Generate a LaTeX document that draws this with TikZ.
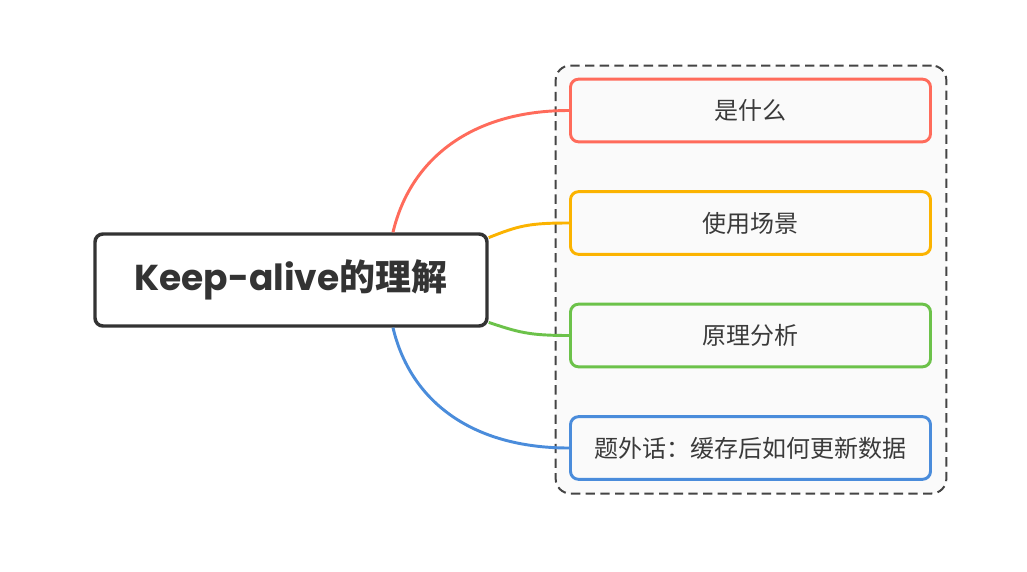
\documentclass[tikz,border=0pt]{standalone}
\usepackage{fontspec}
\usepackage{tikz}
\newfontfamily\cjk{Noto Sans CJK SC}
\newfontfamily\latinbold{Poppins}
\definecolor{ink}{HTML}{333333}
\definecolor{label}{HTML}{3A3A3A}
\definecolor{boxfill}{HTML}{FAFAFA}
\definecolor{grpline}{HTML}{444444}
\definecolor{redline}{HTML}{FF6B5B}
\definecolor{orangeline}{HTML}{FBB300}
\definecolor{greenline}{HTML}{6CC24A}
\definecolor{blueline}{HTML}{4A8CDB}

\begin{document}
\begin{tikzpicture}[x=0.75pt,y=-0.75pt,
	rootbox/.style={draw=ink, line width=2.6pt, rounded corners=6pt, fill=white,
		minimum width=294pt, minimum height=69pt, text=ink},
	topic/.style={draw=#1, line width=2.2pt, rounded corners=6pt, fill=boxfill,
		minimum width=270pt, minimum height=47pt, text=label,
		font=\cjk\fontsize{18}{21}\selectfont},
	group/.style={draw=grpline, line width=1.5pt, dash pattern=on 7pt off 4pt,
		rounded corners=11pt, fill=boxfill, minimum width=293pt, minimum height=321pt},
	link/.style={draw=#1, line width=2.2pt}]
	\useasboundingbox (0,0) rectangle (1027,571);
	% dashed frame round the four topics
	\node [group] (group) at (751,279.5) {};
	% central topic
	\node [rootbox] (root) at (291,280)
		{\fontsize{27}{32}\selectfont{\latinbold\bfseries Keep-alive}{\cjk\bfseries 的理解}};
	% subtopics
	\node [topic=redline] (what) at (750.5,110.5) {是什么};
	\node [topic=orangeline] (scene) at (750.5,223) {使用场景};
	\node [topic=greenline] (principle) at (750.5,335.5) {原理分析};
	\node [topic=blueline] (extra) at (750.5,448) {题外话：缓存后如何更新数据};
	% connectors
	\draw [link=redline] ([xshift=76.5pt]root.north) .. controls +(17,-72) and +(-99,0) .. (what.west);
	\draw [link=orangeline] ([yshift=-4pt]root.north east) .. controls +(30,-12) and +(-40,0) .. (scene.west);
	\draw [link=greenline] ([yshift=4pt]root.south east) .. controls +(30,10) and +(-40,0) .. (principle.west);
	\draw [link=blueline] ([xshift=76.5pt]root.south) .. controls +(17,72) and +(-99,0) .. (extra.west);
\end{tikzpicture}
\end{document}
